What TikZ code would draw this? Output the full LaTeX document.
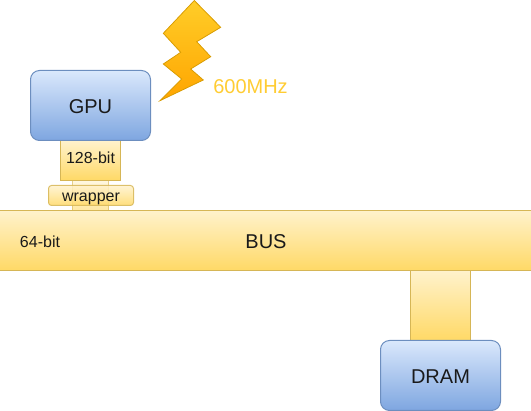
\documentclass[tikz,border=0pt]{standalone}
\usepackage{fontspec}
\setmainfont{Liberation Sans}
\definecolor{yt}{HTML}{FFF2CC}
\definecolor{yb}{HTML}{FFD966}
\definecolor{ys}{HTML}{D6B656}
\definecolor{bt}{HTML}{DAE8FC}
\definecolor{bb}{HTML}{7EA6E0}
\definecolor{bs}{HTML}{6C8EBF}
\definecolor{lt}{HTML}{FFCD28}
\definecolor{lb}{HTML}{FFA500}
\definecolor{ls}{HTML}{D79B00}
\definecolor{mhz}{HTML}{FFCC33}
\definecolor{ink}{HTML}{1A1A1A}
\tikzset{
  yel/.style={draw=ys,top color=yt,bottom color=yb,middle color=yt!50!yb,line width=1pt,inner sep=0pt,text=ink,anchor=north west},
  blu/.style={draw=bs,top color=bt,bottom color=bb,middle color=bt!50!bb,line width=1pt,inner sep=0pt,rounded corners=9pt,text=ink,anchor=north west,font=\fontsize{20}{24}\selectfont,text height=16pt,text depth=0pt},
  lbl/.style={inner sep=0pt,text=ink}
}
\begin{document}
\begin{tikzpicture}[x=1pt,y=-1pt]
\useasboundingbox (0,0) rectangle (531,411);
\node[yel,minimum width=36pt,minimum height=30pt,opacity=.6] (strip) at (72,180) {};
\node[yel,minimum width=60pt,minimum height=40pt,font=\fontsize{16}{19}\selectfont,text height=12pt,text depth=5pt] (bit) at (60,140) {128-bit};
\node[yel,minimum width=85pt,minimum height=20pt,rounded corners=3pt,opacity=.85,text opacity=1,font=\fontsize{16}{19}\selectfont,text height=15pt,text depth=3.5pt] (wrap) at (48,185) {wrapper};
\node[yel,minimum width=60pt,minimum height=70pt] (dbar) at (410,270) {};
\node[yel,minimum width=533pt,minimum height=60pt,font=\fontsize{20}{24}\selectfont,text height=16pt,text depth=0pt] (bus) at (-1,210) {BUS};
\node[blu,minimum width=120pt,minimum height=70pt] (gpu) at (30,70) {GPU};
\node[blu,minimum width=120pt,minimum height=70pt] (dram) at (380,340) {DRAM};
\node[lbl,font=\fontsize{16}{19}\selectfont] (w64) at (40,242) {64-bit};
\node[lbl,font=\fontsize{20}{24}\selectfont,text=mhz] (mhzl) at (250.5,86.5) {600MHz};
\draw[draw=ls,top color=lt,bottom color=lb,line width=.75pt,line join=miter]
  (194.3,0.5) -- (220.7,27.3) -- (196.7,41.7) -- (210.7,56.7) -- (190.7,69) -- (203.3,80) -- (160,100.7) -- (181.7,79) -- (163.3,64) -- (180.7,52.3) -- (163.3,33.3) -- cycle;
\end{tikzpicture}
\end{document}
